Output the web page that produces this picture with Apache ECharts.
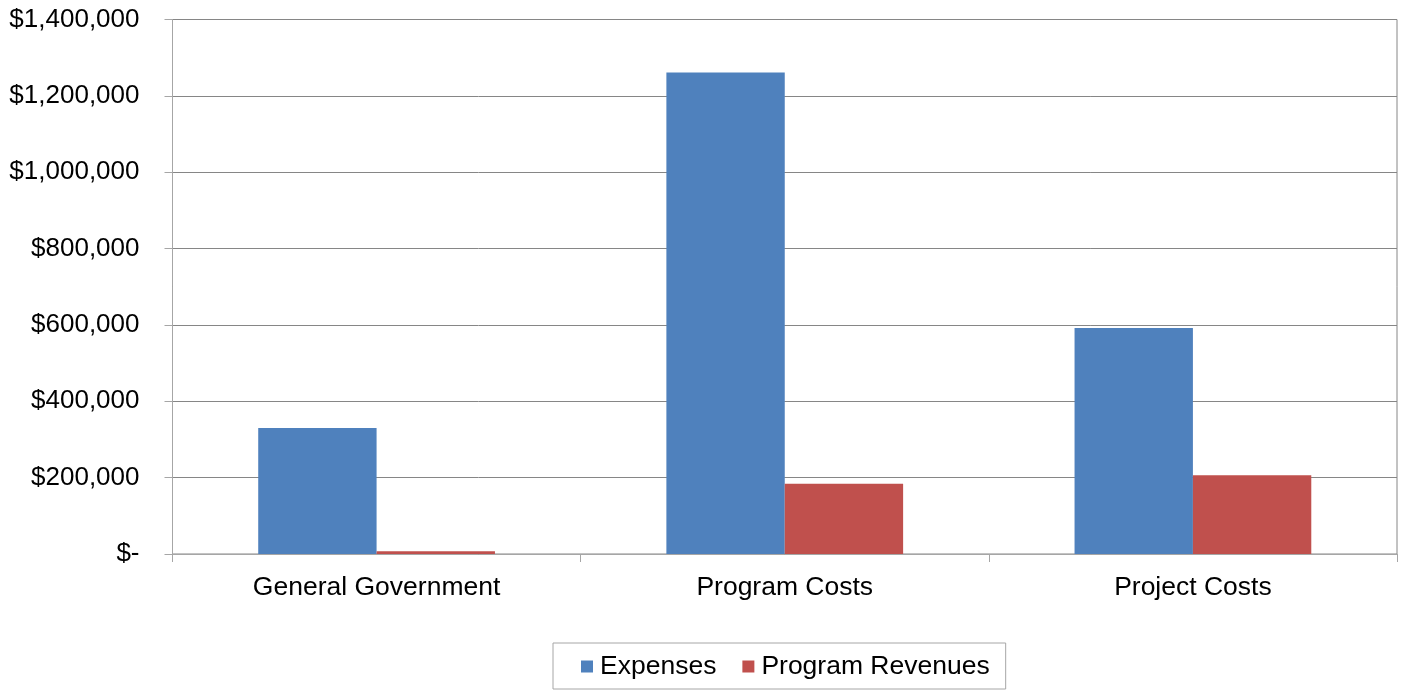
<!DOCTYPE html>
<html>
<head>
<meta charset="utf-8">
<script src="https://cdn.jsdelivr.net/npm/echarts@6/dist/echarts.min.js"></script>
<style>
html,body{margin:0;padding:0;background:#fff;}
#chart{width:1403px;height:690px;}
</style>
</head>
<body>
<div id="chart"></div>
<script>
const categories = ['General Government', 'Program Costs', 'Project Costs'];
const expenses = [330000, 1261000, 592000];
const programRevenues = [7000, 184000, 206000];
const yTicks = [0, 200000, 400000, 600000, 800000, 1000000, 1200000, 1400000];
const yTickLabels = ['$-', '$200,000', '$400,000', '$600,000', '$800,000', '$1,000,000', '$1,200,000', '$1,400,000'];

const FONT = "'Liberation Sans', Arial, sans-serif";
const chart = echarts.init(document.getElementById('chart'), null, {renderer: 'canvas'});
chart.setOption({
  backgroundColor: '#ffffff',
  animation: false,
  grid: {
    left: 172.5, right: 6, top: 19.5, bottom: 136,
    show: true, borderColor: '#868686', borderWidth: 1, backgroundColor: 'transparent'
  },
  legend: {
    data: ['Expenses', 'Program Revenues'],
    left: 553, top: 643,
    padding: [10, 16, 9, 28],
    itemWidth: 12, itemHeight: 12, itemGap: 26,
    icon: 'rect',
    borderColor: '#a6a6a6', borderWidth: 1,
    textStyle: {fontFamily: FONT, fontSize: 26.5, color: '#000', padding: [0, 0, 0, 2]}
  },
  xAxis: {
    type: 'category',
    data: categories,
    axisLine: {show: true, lineStyle: {color: '#a6a6a6', width: 1}},
    axisTick: {show: true, length: 8, lineStyle: {color: '#a6a6a6'}},
    axisLabel: {fontFamily: FONT, fontSize: 26.5, color: '#000', margin: 20},
    splitLine: {show: false}
  },
  yAxis: {
    type: 'value',
    min: 0, max: 1400000, interval: 200000,
    axisLine: {show: true, lineStyle: {color: '#a6a6a6', width: 1}},
    axisTick: {show: true, length: 8, lineStyle: {color: '#a6a6a6'}},
    axisLabel: {
      fontFamily: FONT, fontSize: 26, color: '#000', margin: 33,
      formatter: function (v) { const i = yTicks.indexOf(v); return i >= 0 ? yTickLabels[i] : ''; }
    },
    splitLine: {show: true, lineStyle: {color: '#868686', width: 1}}
  },
  series: [
    {
      name: 'Expenses', type: 'bar', data: expenses,
      barGap: '0%', barCategoryGap: '42%',
      itemStyle: {color: '#4F81BD'}
    },
    {
      name: 'Program Revenues', type: 'bar', data: programRevenues,
      barGap: '0%', barCategoryGap: '42%',
      itemStyle: {color: '#C0504D'}
    }
  ]
});
</script>
</body>
</html>
